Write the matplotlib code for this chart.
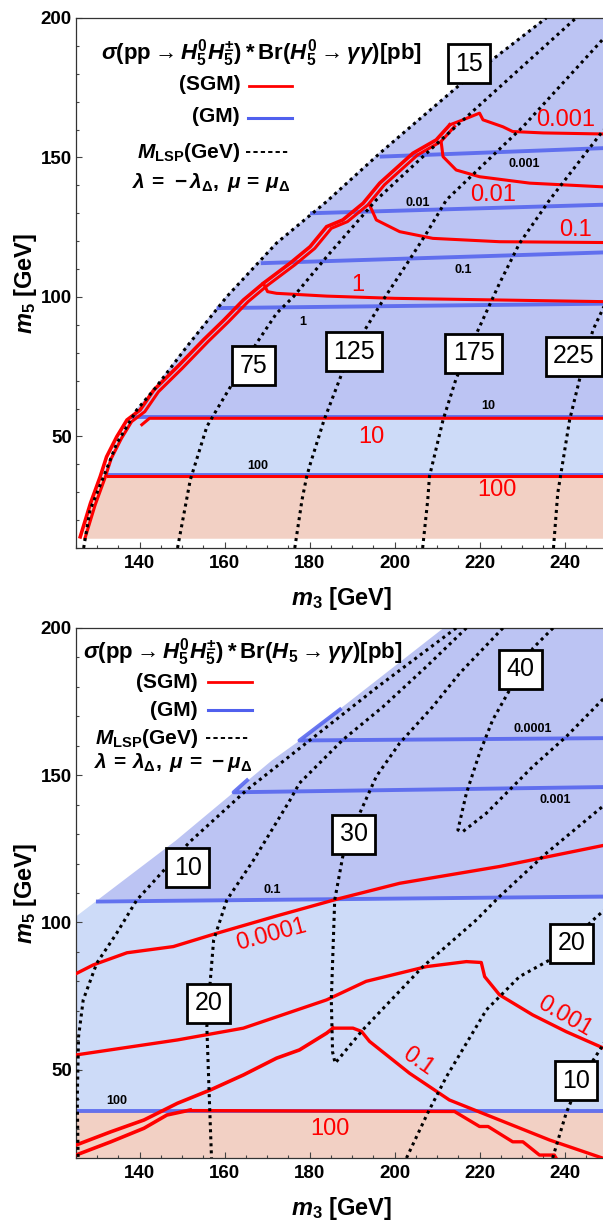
import numpy as np
import matplotlib
matplotlib.use("Agg")
import matplotlib.pyplot as plt
from matplotlib.lines import Line2D
from matplotlib.ticker import MultipleLocator

plt.rcParams.update({
    'font.family': ['Liberation Sans', 'DejaVu Sans'],
    'mathtext.fontset': 'custom',
    'mathtext.rm': 'Liberation Sans:bold',
    'mathtext.it': 'Liberation Sans:italic:bold',
    'mathtext.bf': 'Liberation Sans:bold',
    'mathtext.sf': 'Liberation Sans:bold',
    'mathtext.fallback': 'stixsans',
})

# ---------------- top panel data (lambda = -lambda_D, mu = mu_D) ----------------
top_edge_m3 = [126.8, 128.3, 131.5, 134.6, 139.3, 143.5, 151.1, 160.5, 172.2, 184.0, 196.5, 204.3, 215.3, 235.7]
top_edge_m5 = [11.1, 23.6, 35.6, 47.5, 59.5, 67.0, 82.2, 100.1, 119.3, 134.2, 151.5, 161.7, 176.0, 200.0]

top_bands = [(13.5, 35.8, '#f2d0c4'), (35.8, 56.8, '#cddbf8'), (56.8, 200.0, '#bcc4f3')]

# M_LSP contours (dotted)
top_lsp = {
    '15': ([126.8, 128.3, 131.5, 134.6, 139.3, 143.5, 151.1, 160.5, 172.2, 184.0, 196.5, 204.3, 215.3, 235.7],
           [10.0, 23.6, 35.6, 47.5, 59.5, 67.0, 82.2, 100.1, 119.3, 134.2, 151.5, 161.7, 176.0, 200.0]),
    '75': ([148.9, 151.9, 155.8, 158.1, 161.6, 167.5, 172.2, 176.2, 184.0, 195.7, 210.0, 226.0, 242.7],
           [10.0, 34.4, 53.5, 59.5, 68.4, 83.4, 94.1, 100.1, 114.4, 134.8, 155.0, 177.0, 200.0]),
    '125': ([176.5, 178.2, 179.3, 180.2, 183.4, 187.6, 193.0, 197.3, 203.5, 207.5, 212.2, 230.2, 248.2, 250.0],
            [10.0, 27.2, 35.6, 40.4, 55.9, 72.6, 88.2, 98.9, 113.3, 122.8, 134.8, 161.0, 191.0, 194.0]),
    '175': ([206.6, 207.8, 208.2, 211.4, 214.5, 220.0, 224.7, 229.4, 236.5, 248.9, 250.0],
            [10.0, 27.2, 35.6, 55.9, 70.8, 89.3, 104.9, 119.2, 134.8, 159.3, 161.0]),
    '225': ([237.4, 238.4, 241.2, 243.5, 246.7, 248.9, 250.0],
            [10.0, 29.6, 55.9, 70.2, 88.2, 95.3, 99.0]),
}
top_lsp_boxes = {'15': (217.5, 183.6), '75': (166.8, 75.3), '125': (190.4, 80.4),
                 '175': (218.6, 79.8), '225': (242.2, 78.8)}

# SGM jagged boundary along the edge
top_stair_m3 = [126.0, 128.4, 130.7, 132.2, 134.6, 137.0, 140.1, 143.3, 148.9, 155.0, 159.8, 164.4,
                169.1, 175.4, 180.1, 184.0, 187.8, 192.6, 196.5, 204.3, 209.8, 213.0]
top_stair_m5 = [14.0, 26.0, 35.6, 42.7, 49.9, 55.9, 59.5, 66.6, 75.0, 84.6, 91.7, 98.9,
                104.9, 112.1, 118.0, 125.2, 127.6, 133.6, 140.8, 151.5, 156.3, 161.7]

# SGM contours (red)
top_sgm = {
    '0.001': ([213.0, 216.1, 220.0, 220.8, 225.5, 227.8, 235.0, 250.0],
              [161.7, 163.5, 165.9, 163.5, 161.0, 159.3, 158.8, 158.4]),
    '0.01': ([211.0, 211.4, 214.5, 220.0, 231.8, 250.0], [155.1, 150.3, 145.5, 143.1, 140.8, 139.4]),
    '0.1': ([194.1, 195.7, 201.2, 209.0, 224.7, 250.0], [133.0, 127.6, 123.4, 121.0, 119.8, 119.5]),
    '1': ([169.1, 170.1, 172.2, 184.0, 200.0, 250.0], [104.9, 101.9, 101.3, 100.3, 99.5, 98.3]),
    '10': ([140.5, 142.3, 250.0], [54.2, 56.5, 56.5]),
    '100': ([132.5, 250.0], [35.8, 35.8]),
}
top_sgm_labels = {'0.001': (240.2, 163.5), '0.01': (223.1, 136.6), '0.1': (242.6, 124.0),
                  '1': (191.4, 104.3), '10': (194.5, 49.9), '100': (224.2, 30.8)}

# GM contours (blue)
top_gm = {
    '0.001': ([196.5, 250.0], [150.3, 153.4]),
    '0.01': ([180.1, 250.0], [130.0, 133.1]),
    '0.1': ([168.5, 250.0], [112.1, 116.0]),
    '1': ([158.1, 250.0], [96.0, 97.6]),
    '10': ([137.6, 250.0], [57.0, 57.0]),
    '100': ([132.0, 250.0], [36.2, 36.2]),
}
top_gm_labels = {'0.001': (230.6, 147.7), '0.01': (205.5, 133.6), '0.1': (216.1, 109.7),
                 '1': (178.4, 91.1), '10': (222.0, 61.0), '100': (167.8, 39.5)}

# ---------------- bottom panel data (lambda = lambda_D, mu = -mu_D) ----------------
bot_edge_m3 = [124.0, 124.0, 125.2, 148.9, 171.5, 177.6, 212.2]
bot_edge_m5 = [20.0, 101.5, 102.0, 128.0, 155.2, 161.5, 200.5]

bot_bands = [(20.0, 36.1, '#f2d0c4'), (36.1, 108.0, '#cddbf8'), (108.0, 200.0, '#bcc4f3')]

bot_lsp = [
    ([214.5, 196.0, 177.6, 165.2, 151.8, 139.3, 134.6, 129.9, 126.7, 125.6, 125.3, 125.5],
     [200.0, 180.0, 159.1, 145.0, 127.4, 107.6, 96.4, 86.2, 73.7, 61.2, 40.0, 20.0]),
    ([216.9, 207.5, 197.3, 187.8, 177.6, 175.4, 166.8, 160.5, 157.4, 156.6, 155.8, 156.4, 156.9],
     [200.0, 186.9, 173.3, 162.0, 147.3, 141.6, 121.2, 107.6, 94.0, 80.0, 64.6, 39.7, 20.0]),
    ([225.5, 215.3, 209.0, 201.2, 195.7, 191.8, 187.8, 185.9, 185.1, 185.4, 186.0, 192.5, 206.6,
      219.2, 224.7, 235.7, 248.9, 250.0],
     [200.0, 184.6, 173.3, 160.9, 149.6, 137.1, 122.4, 107.6, 73.7, 56.0, 52.2, 63.5, 84.9,
      100.8, 108.8, 123.5, 139.3, 140.8]),
    ([237.3, 232.6, 227.1, 223.1, 220.0, 216.9, 214.9, 216.1, 221.6, 232.5, 240.4, 248.9, 250.0],
     [200.0, 193.2, 179.0, 168.8, 157.5, 143.9, 131.4, 130.9, 137.1, 152.9, 163.1, 175.6, 177.0]),
    ([202.8, 207.8, 212.2, 221.6, 229.4, 237.2, 246.7, 250.0],
     [20.0, 35.3, 47.6, 70.3, 81.6, 87.8, 100.8, 105.0]),
    ([237.2, 240.4, 243.5, 248.9, 250.0], [20.0, 35.3, 46.0, 58.0, 61.0]),
]
bot_lsp_boxes = [('10', 151.3, 118.5), ('30', 190.4, 130.0), ('40', 229.6, 186.0),
                 ('20', 156.2, 72.6), ('20', 241.6, 93.0), ('10', 242.7, 46.2)]

bot_stair01_m3 = [125.0, 133.2, 141.0, 148.9, 156.6, 164.4, 172.2, 177.6, 184.0, 185.5]
bot_stair01_m5 = [24.4, 28.9, 32.9, 38.6, 43.1, 48.2, 53.9, 56.7, 62.4, 64.1]
bot_stair100_m3 = [125.0, 133.2, 141.0, 146.4, 151.9]
bot_stair100_m5 = [21.0, 25.5, 30.1, 34.6, 36.3]

bot_sgm = {
    '0.0001': ([125.0, 129.1, 137.0, 147.9, 158.1, 172.2, 186.4, 201.2, 224.7, 250.0],
               [82.6, 85.6, 89.7, 91.8, 96.3, 102.2, 107.9, 113.3, 119.0, 126.4]),
    '0.001': ([125.0, 148.9, 164.4, 184.0, 193.3, 207.5, 216.9, 220.4, 221.2, 224.7, 232.5, 240.4, 250.0],
              [55.0, 60.1, 64.1, 73.7, 80.0, 85.0, 86.7, 86.4, 81.6, 75.4, 68.6, 62.9, 56.8]),
    '0.1': ([185.5, 190.2, 192.2, 194.1, 203.5, 212.9, 224.7, 236.5, 248.9],
            [64.1, 64.1, 63.0, 59.6, 48.8, 39.7, 32.9, 26.1, 20.0]),
    '100': ([151.9, 214.1, 220.0, 222.0, 227.8, 230.2, 234.1, 237.6, 238.0],
            [36.1, 35.8, 30.7, 30.7, 25.5, 25.5, 21.0, 21.0, 20.0]),
}
bot_sgm_labels = {'0.0001': (170.9, 95.7, 15), '0.001': (240.0, 68.0, -30),
                  '0.1': (205.5, 52.7, -35), '100': (184.7, 29.7, 0)}

bot_gm = {
    '0.0001': ([187.5, 177.6, 250.0], [172.7, 161.8, 162.6]),
    '0.001': ([165.6, 162.1, 250.0], [148.7, 144.2, 146.0]),
    '0.1': ([129.7, 250.0], [107.1, 108.8]),
    '100': ([125.0, 250.0], [36.1, 36.1]),
}
bot_gm_labels = {'0.0001': (232.5, 165.6), '0.001': (237.9, 141.6), '0.1': (171.1, 111.0),
                 '100': (134.6, 39.4)}

# ---------------- styles ----------------
W, H = 603, 1220
RED = '#ff0000'
BLUE = '#5060ee'
DOT = dict(color='black', lw=2.2, linestyle=(0, (1.0, 1.3)), zorder=4)


def fill_bands(ax, edge_m3, edge_m5, bands):
    ys = np.asarray(edge_m5)
    xs = np.asarray(edge_m3)
    for lo, hi, col in bands:
        y = np.concatenate([[lo], ys[(ys > lo) & (ys < hi)], [hi]])
        x = np.interp(y, ys, xs)
        ax.fill_betweenx(y, x - 0.5, 251, color=col, lw=0, zorder=0)


def box(ax, x, y, s):
    ax.text(x, y, s, ha='center', va='center', fontsize=18, zorder=6,
            bbox=dict(boxstyle='square,pad=0.3', fc='white', ec='black', lw=2))


def jagged(ax, xs, ys, double=True):
    # thick doubled red outline of the SGM region edge
    xs = np.asarray(xs)
    ys = np.asarray(ys)
    ax.plot(xs, ys, color=RED, lw=2.6, zorder=3, solid_joinstyle='miter')
    if double:
        ax.plot(xs + 1.1, ys - 0.6, color=RED, lw=2.2, zorder=3, solid_joinstyle='miter')


def style_axes(ax, ylo):
    ax.set_xlim(125, 250)
    ax.set_ylim(ylo, 200)
    ax.xaxis.set_major_locator(MultipleLocator(20))
    ax.xaxis.set_minor_locator(MultipleLocator(5))
    ax.yaxis.set_major_locator(MultipleLocator(50))
    ax.yaxis.set_minor_locator(MultipleLocator(10))
    ax.tick_params(which='both', direction='in', labelsize=13.5, width=0.8, color='#444444')
    ax.tick_params(which='major', length=4)
    ax.tick_params(which='minor', length=2.5)
    ax.tick_params(axis='x', pad=5)
    ax.tick_params(axis='y', pad=3)
    for lab in ax.get_xticklabels() + ax.get_yticklabels():
        lab.set_fontweight('bold')
    for sp in ax.spines.values():
        sp.set_linewidth(0.9)
        sp.set_color('#333333')
    ax.set_xlabel(r'$m_3$ [GeV]', fontsize=17, fontweight='bold')
    ax.set_ylabel(r'$m_5$ [GeV]', fontsize=17, fontweight='bold')
    ax.xaxis.set_label_coords(0.5, -0.07)
    ax.yaxis.set_label_coords(-0.07, 0.5)


fig = plt.figure(figsize=(W / 100, H / 100), dpi=100)
ax1 = fig.add_axes([76 / W, 1 - 548 / H, 531 / W, 530 / H])
ax2 = fig.add_axes([76 / W, 1 - 1158 / H, 531 / W, 530 / H])

# ---- top panel ----
fill_bands(ax1, top_edge_m3, top_edge_m5, top_bands)
for k, (xs, ys) in top_gm.items():
    ax1.plot(xs, ys, color=BLUE, lw=2.8, alpha=0.85, zorder=2, solid_capstyle='butt')
for k, (x, y) in top_gm_labels.items():
    ax1.text(x, y, k, ha='center', va='center', fontsize=9, fontweight='bold', zorder=5)
jagged(ax1, top_stair_m3, top_stair_m5)
for k, (xs, ys) in top_sgm.items():
    ax1.plot(xs, ys, color=RED, lw=2.2, zorder=3)
for k, (x, y) in top_sgm_labels.items():
    ax1.text(x, y, k, ha='center', va='center', fontsize=17, color=RED, zorder=5)
for k, (xs, ys) in top_lsp.items():
    ax1.plot(xs, ys, **DOT)
for k, (x, y) in top_lsp_boxes.items():
    box(ax1, x, y, k)
style_axes(ax1, 10)

# ---- bottom panel ----
fill_bands(ax2, bot_edge_m3, bot_edge_m5, bot_bands)
for k, (xs, ys) in bot_gm.items():
    ax2.plot(xs, ys, color=BLUE, lw=2.8, alpha=0.85, zorder=2, solid_capstyle='butt')
for k, (x, y) in bot_gm_labels.items():
    ax2.text(x, y, k, ha='center', va='center', fontsize=9, fontweight='bold', zorder=5)
jagged(ax2, bot_stair01_m3, bot_stair01_m5, double=False)
jagged(ax2, bot_stair100_m3, bot_stair100_m5, double=False)
for k, (xs, ys) in bot_sgm.items():
    ax2.plot(xs, ys, color=RED, lw=2.4, zorder=3)
for k, (x, y, r) in bot_sgm_labels.items():
    ax2.text(x, y, k, ha='center', va='center', fontsize=17, color=RED, rotation=r, zorder=5)
for xs, ys in bot_lsp:
    ax2.plot(xs, ys, **DOT)
for s, x, y in bot_lsp_boxes:
    box(ax2, x, y, s)
style_axes(ax2, 20)


# ---- legends ----
def ftext(x, y, s, ha='right', size=15):
    fig.text(x / W, 1 - y / H, s, ha=ha, va='center', fontsize=size, fontweight='bold')


def fline(x0, x1, y, **kw):
    fig.add_artist(Line2D([x0 / W, x1 / W], [1 - y / H, 1 - y / H], **kw))


title_top = r'$\sigma(\mathrm{pp}\rightarrow H_5^0H_5^{\pm})*\mathrm{Br}(H_5^0\rightarrow\gamma\gamma)[\mathrm{pb}]$'
title_bot = r'$\sigma(\mathrm{pp}\rightarrow H_5^0H_5^{\pm})*\mathrm{Br}(H_5\rightarrow\gamma\gamma)[\mathrm{pb}]$'
lsp_txt = r'$M_{\mathrm{LSP}}$(GeV)'

ftext(101, 53, title_top, ha='left', size=16)
ftext(241, 85, '(SGM)')
fline(249, 292, 86, color=RED, lw=2)
ftext(240, 117, '(GM)')
fline(248, 292, 118, color=BLUE, lw=2.2)
ftext(240, 152, lsp_txt)
fline(246, 289, 152, color='black', lw=1.4, linestyle=(0, (2.2, 1.6)))
ftext(290, 182, r'$\lambda\,=\,-\lambda_{\Delta},\;\mu\,=\,\mu_{\Delta}$')

ftext(83, 652, title_bot, ha='left', size=16)
ftext(198, 682, '(SGM)')
fline(208, 252, 682, color=RED, lw=2)
ftext(198, 710, '(GM)')
fline(208, 252, 710, color=BLUE, lw=2.2)
ftext(198, 738, lsp_txt)
fline(206, 250, 738, color='black', lw=1.4, linestyle=(0, (2.2, 1.6)))
ftext(252, 763, r'$\lambda\,=\,\lambda_{\Delta},\;\mu\,=\,-\mu_{\Delta}$')

fig.savefig('out.png', dpi=100)
